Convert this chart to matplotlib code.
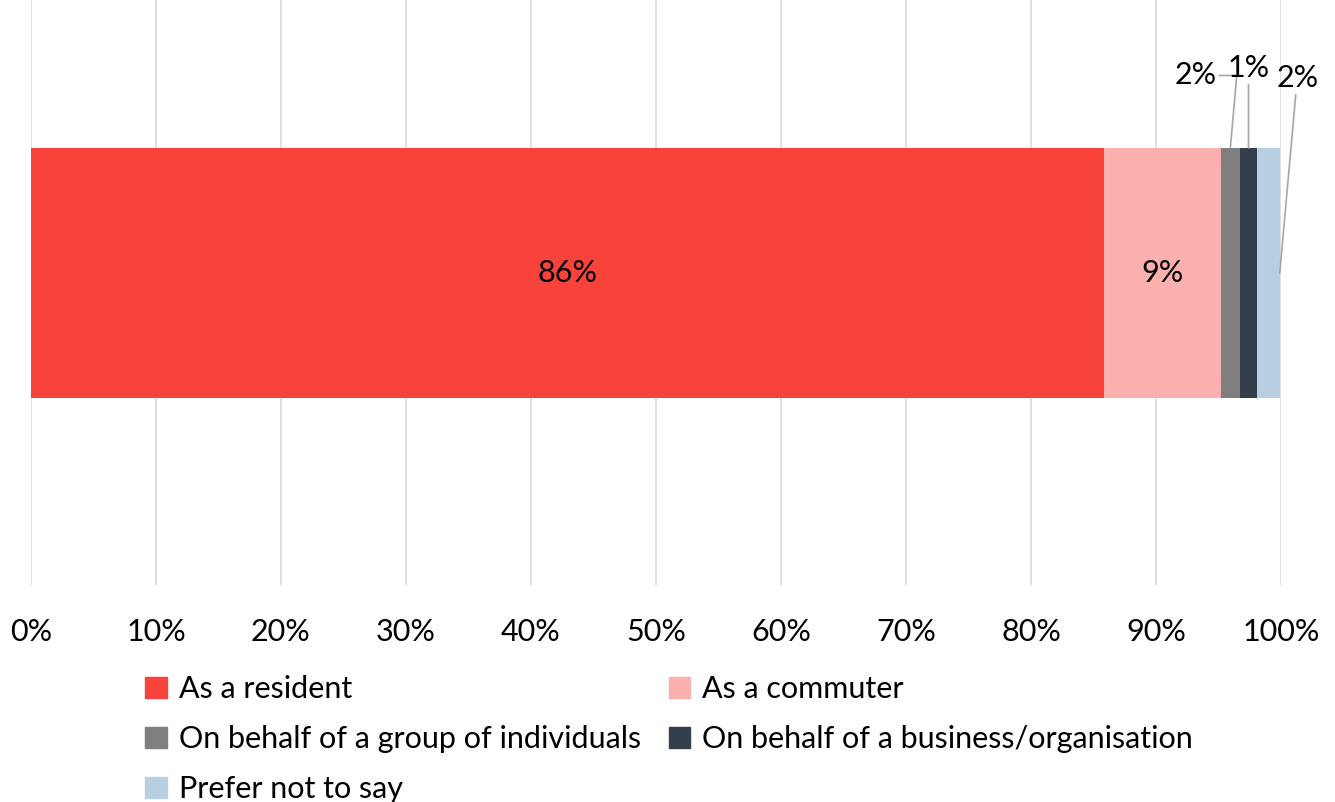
import matplotlib
matplotlib.use("Agg")
import matplotlib.pyplot as plt
from matplotlib.patches import Patch
from matplotlib.ticker import FuncFormatter

plt.rcParams['font.family'] = ['Lato', 'DejaVu Sans']

# Survey responses: in what capacity are you responding (share of respondents, %)
categories = ['As a resident', 'As a commuter', 'On behalf of a group of individuals',
              'On behalf of a business/organisation', 'Prefer not to say']
shares = [85.8, 9.4, 1.5, 1.4, 1.8]
colors = ['#F8433C', '#FBB0AE', '#7F7F7F', '#333F4B', '#B8CFE2']
tick_values = list(range(0, 101, 10))

fig = plt.figure(figsize=(13.35, 8.02), dpi=100)
ax = fig.add_axes([31 / 1335, 1 - 585 / 802, 1250 / 1335, 585 / 802])

left = 0
bars = []
for cat, val, col in zip(categories, shares, colors):
    ax.barh(0, val, left=left, height=1.0, color=col, label=cat, zorder=3)
    bars.append((left, val))
    left += val

ax.set_xlim(0, 100)
ax.set_ylim(-1.248, 1.092)
ax.set_xticks(tick_values)
ax.xaxis.set_major_formatter(FuncFormatter(lambda v, p: f"{v:.0f}%"))
ax.tick_params(axis='x', length=0, pad=24, labelsize=22)
ax.set_yticks([])
ax.grid(axis='x', color='#D9D9D9', linewidth=1.2, zorder=0)
for s in ax.spines.values():
    s.set_visible(False)

# big segments: value in the middle of the bar
for (start, val) in bars[:2]:
    ax.text(start + val / 2, 0, f"{val:.0f}%", ha='center', va='center', fontsize=22)

# thin segments: labels above with leader lines
line_kw = dict(arrowstyle='-', color='#A6A6A6', lw=1.2, shrinkA=0, shrinkB=0)
s, v = bars[2]
ax.annotate(f"{v:.0f}%", xy=(s + v / 2, 0.5), xytext=(s + v / 2 - 2.8, 0.79),
            ha='center', va='center', fontsize=22,
            arrowprops=dict(line_kw, connectionstyle='angle,angleA=0,angleB=85,rad=0'))
s, v = bars[3]
ax.annotate(f"{v:.0f}%", xy=(s + v / 2, 0.5), xytext=(s + v / 2, 0.82),
            ha='center', va='center', fontsize=22, arrowprops=line_kw)
s, v = bars[4]
ax.annotate(f"{v:.0f}%", xy=(s + v, 0.0), xytext=(s + v + 1.4, 0.78),
            ha='center', va='center', fontsize=22, arrowprops=line_kw)

# legend laid out row by row (two columns)
handles = [Patch(color=c) for c in colors]
order = [0, 2, 4, 1, 3]
fig.legend([handles[i] for i in order], [categories[i] for i in order],
           loc='upper left', bbox_to_anchor=(130 / 1335, 1 - 660 / 802),
           ncol=2, frameon=False, fontsize=22, handlelength=0.7, handleheight=0.7,
           handletextpad=0.4, columnspacing=0.9, labelspacing=0.72, borderpad=0)

fig.savefig("out.png", dpi=100)
